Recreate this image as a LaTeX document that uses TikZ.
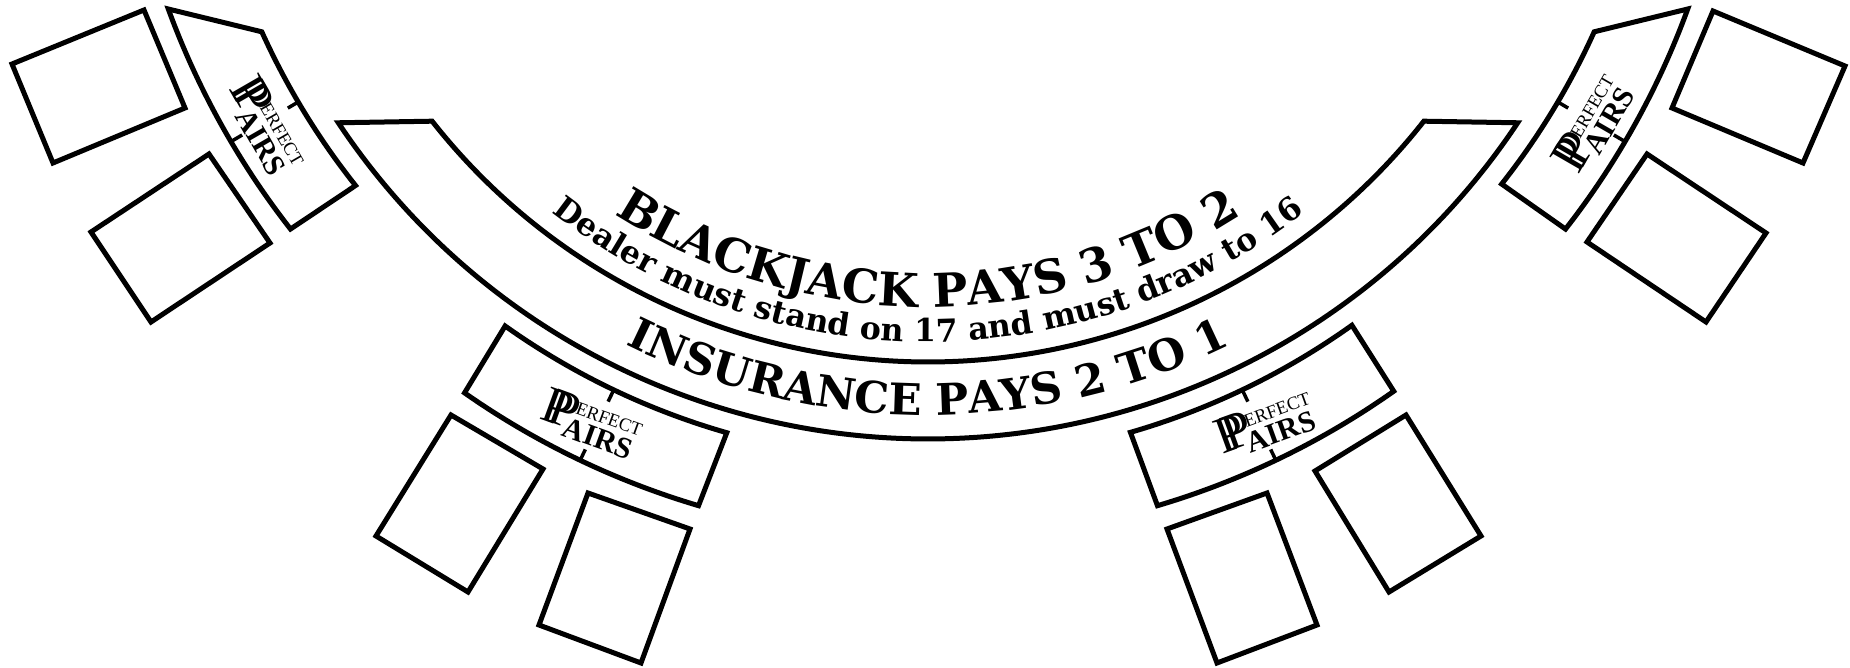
\documentclass[tikz,border=0pt]{standalone}
\usepackage{fontspec}
\setmainfont{Liberation Serif}
\newfontfamily\slabfont{DejaVu Serif}[BoldFont={* Bold}]
\usetikzlibrary{decorations.text}
\newcommand{\bjtextfont}{\slabfont\bfseries\fontsize{46.5}{47}\selectfont}
\newcommand{\instextfont}{\slabfont\bfseries\fontsize{43.5}{44}\selectfont}
\newcommand{\smalltextfont}{\slabfont\bfseries\fontsize{31.6}{32}\selectfont}
\tikzset{
  outline/.style={draw=black,line width=5pt,line join=miter,miter limit=20},
  tick/.style={draw=black,line width=3.5pt},
  lg/.style={inner sep=0pt,transform shape,anchor=center,text=black},
  arcsettext/.style={decorate,decoration={text along path,text align=center,text={#1}}},
  pplogo/.pic={
    \node[lg,font=\fontsize{52}{52}\selectfont] (p1) at (-38,3) {P};
    \node[lg,font=\fontsize{52}{52}\selectfont] (p2) at (-31,3) {P};
    \node[lg,font=\fontsize{18.5}{18.5}\selectfont] (t1) at (14,9) {ERFECT};
    \node[lg,font=\bfseries\fontsize{30}{30}\selectfont] (t2) at (10,-13) {AIRS};
  }
}
\begin{document}
\begin{tikzpicture}[x=1pt,y=1pt]
\useasboundingbox (0,0) rectangle (1850,-668);
\coordinate (C) at (928,269);
% main banner
\path[outline] ([shift={(C)}]-146.4:708) arc[start angle=-146.4,end angle=-33.6,radius=708pt]
  -- ([shift={(C)}]-38.2:631) arc[start angle=-38.2,end angle=-141.8,radius=631pt] -- cycle;
\path[arcsettext={|\bjtextfont|BLACKJACK PAYS 3 TO 2}]
  ([shift={(C)}]-125:576) arc[start angle=-125,end angle=-55,radius=576pt];
\path[arcsettext={|\smalltextfont|Dealer must stand on 17 and must draw to 16}]
  ([shift={(C)}]-135:611) arc[start angle=-135,end angle=-45,radius=611pt];
\path[arcsettext={|\instextfont|INSURANCE PAYS 2 TO 1}]
  ([shift={(C)}]-120:684) arc[start angle=-120,end angle=-60,radius=684pt];
% perfect pairs boxes
\path[outline] ([shift={(C)}]-155.7:731) arc[start angle=-155.7,end angle=-141.55,radius=731pt]
  -- ([shift={(C)}]-142:809) arc[start angle=-142,end angle=-159.9,radius=809pt] -- cycle;
\path[outline] ([shift={(C)}]-125.4:730) arc[start angle=-125.4,end angle=-106,radius=730pt]
  -- ([shift={(C)}]-106.5:808) arc[start angle=-106.5,end angle=-125,radius=808pt] -- cycle;
\path[outline] ([shift={(C)}]-73.9:730) arc[start angle=-73.9,end angle=-54.5,radius=730pt]
  -- ([shift={(C)}]-54.8:808) arc[start angle=-54.8,end angle=-73.5,radius=808pt] -- cycle;
\path[outline] ([shift={(C)}]-38.3:731) arc[start angle=-38.3,end angle=-24.3,radius=731pt]
  -- ([shift={(C)}]-20.1:809) arc[start angle=-20.1,end angle=-38,radius=809pt] -- cycle;
% ticks
\foreach \a in {-149.5,-115.5,-64.5,-30.5}{
  \path[tick] ([shift={(C)}]\a:731) -- ([shift={(C)}]\a:743);
  \path[tick] ([shift={(C)}]\a:808) -- ([shift={(C)}]\a:796);
}
% cards
\path[outline] (144,-10) -- (12,-64) -- (53,-163) -- (185,-108) -- cycle;
\path[outline] (209,-154) -- (91,-232) -- (151,-322) -- (270,-243) -- cycle;
\path[outline] (1713,-11) -- (1845,-66) -- (1803,-163) -- (1672,-108) -- cycle;
\path[outline] (1647,-154) -- (1766,-233) -- (1706,-322) -- (1587,-242) -- cycle;
\path[outline] (451,-415) -- (543,-469) -- (468,-592) -- (376,-536) -- cycle;
\path[outline] (588,-493) -- (690,-529) -- (641,-663) -- (539,-625) -- cycle;
\path[outline] (1406,-415) -- (1481,-536) -- (1389,-592) -- (1315,-471) -- cycle;
\path[outline] (1267,-493) -- (1317,-625) -- (1217,-663) -- (1167,-529) -- cycle;
% logos
\pic (la) at (267,-127) [rotate=-60] {pplogo};
\pic (lb) at (593,-423) [rotate=-20] {pplogo};
\pic (lc) at (1267,-423) [rotate=20] {pplogo};
\pic (ld) at (1593,-123) [rotate=60] {pplogo};
\end{tikzpicture}
\end{document}
